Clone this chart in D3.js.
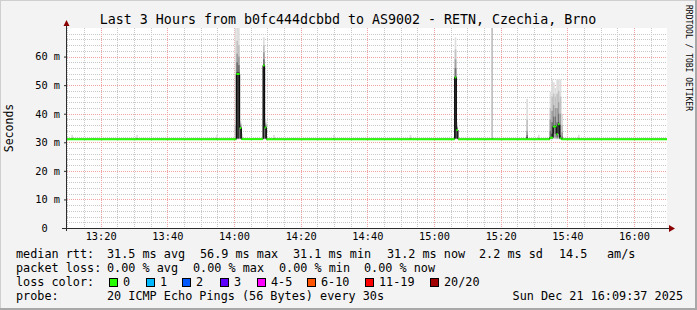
<!DOCTYPE html>
<html>
<head>
<meta charset="utf-8">
<script src="https://cdn.jsdelivr.net/npm/d3@7"></script>
<style>
body { margin: 0; background: #f3f3f3; }
svg { display: block; }
text { font-family: "DejaVu Sans Mono", monospace; fill: #000; }
</style>
</head>
<body>
<svg width="697" height="310"></svg>
<script>
// chart values
var day = '2025-12-21 ';
var timeRange = ['13:09:54', '16:09:54'];
var binSeconds = 30;
var xTickLabels = ['13:20', '13:40', '14:00', '14:20', '14:40', '15:00', '15:20', '15:40', '16:00'];
var yTickValues = [0, 10, 20, 30, 40, 50, 60];
var yMax = 70;

// median rtt (ms), step changes
var medianTimes = ['13:09:54', '14:00:42', '14:01:42', '14:02:12', '14:08:42', '14:09:12', '14:09:42',
    '15:06:12', '15:06:42', '15:07:12', '15:34:42', '15:35:42', '15:36:42', '15:37:12', '15:37:42',
    '15:38:12', '16:09:54'];
var medianValues = [31.1, 53.9, 35.0, 31.1, 56.9, 35.2, 31.1,
    52.7, 34.3, 31.1, 31.6, 35.5, 32.8, 36.3, 31.4,
    31.1, 31.1];

// smoke: sorted ping quantiles (ms) per 30s bin
var smokeTimes = ['13:11:12', '13:30:42', '13:54:42', '14:00:12', '14:00:42', '14:01:12', '14:01:42',
    '14:02:12', '14:08:42', '14:09:12', '14:11:42', '14:29:42', '14:52:42', '15:06:12', '15:06:42',
    '15:17:12', '15:27:42', '15:31:12', '15:34:42', '15:35:12', '15:35:42', '15:36:12', '15:36:42',
    '15:37:12', '15:37:42', '15:38:12', '15:43:12'];
var smokePings = [
    [31.0, 31.1, 31.1, 31.2, 31.2, 31.2, 31.3, 31.4, 31.7, 32.6],
    [31.0, 31.1, 31.1, 31.2, 31.2, 31.2, 31.3, 31.4, 31.7, 32.6],
    [31.0, 31.1, 31.1, 31.2, 31.2, 31.2, 31.3, 31.4, 31.7, 32.6],
    [31.0, 31.1, 31.1, 31.2, 31.2, 31.3, 31.4, 31.6, 36.0, 75.0],
    [31.0, 31.1, 31.2, 31.3, 31.4, 54.5, 58.0, 61.0, 65.5, 75.0],
    [31.0, 31.1, 31.2, 31.3, 31.4, 54.5, 57.0, 60.0, 64.0, 72.0],
    [31.0, 31.1, 31.2, 31.3, 31.4, 35.2, 35.8, 36.3, 36.8, 37.5],
    [31.0, 31.1, 31.1, 31.2, 31.2, 31.3, 31.4, 31.6, 32.0, 33.0],
    [31.0, 31.1, 31.2, 31.3, 31.4, 57.2, 59.0, 61.5, 64.0, 66.7],
    [31.0, 31.1, 31.2, 31.3, 31.4, 35.4, 36.0, 36.5, 37.0, 38.0],
    [31.0, 31.1, 31.1, 31.2, 31.2, 31.2, 31.3, 31.4, 31.7, 32.6],
    [31.0, 31.1, 31.1, 31.2, 31.2, 31.2, 31.3, 31.4, 31.7, 32.6],
    [31.0, 31.1, 31.1, 31.2, 31.2, 31.2, 31.3, 31.4, 31.7, 32.6],
    [31.0, 31.1, 31.2, 31.3, 31.4, 53.0, 56.0, 59.0, 62.5, 66.7],
    [31.0, 31.1, 31.2, 31.3, 31.4, 34.5, 35.0, 35.5, 36.0, 37.0],
    [31.0, 31.1, 31.1, 31.2, 31.2, 31.3, 31.3, 31.4, 74.0, 75.0],
    [31.0, 31.1, 31.2, 31.3, 31.4, 31.8, 32.5, 34.0, 38.0, 45.2],
    [31.0, 31.1, 31.1, 31.2, 31.2, 31.2, 31.3, 31.4, 31.7, 32.6],
    [31.0, 31.1, 31.2, 31.3, 31.4, 31.8, 34.0, 38.0, 42.0, 47.7],
    [31.0, 31.1, 31.3, 31.5, 31.7, 33.0, 37.0, 41.0, 46.0, 52.0],
    [31.1, 31.3, 31.5, 31.9, 33.0, 36.0, 39.0, 43.0, 47.0, 51.0],
    [31.1, 31.3, 31.7, 33.0, 35.0, 36.0, 39.0, 42.0, 46.0, 49.0],
    [31.0, 31.2, 31.4, 31.7, 32.5, 33.2, 37.0, 42.0, 47.0, 52.0],
    [31.1, 31.3, 31.7, 33.0, 35.5, 37.0, 40.0, 44.0, 48.0, 52.0],
    [31.0, 31.1, 31.2, 31.3, 31.4, 32.5, 36.0, 40.0, 46.0, 52.0],
    [31.0, 31.1, 31.1, 31.2, 31.2, 31.5, 32.0, 33.5, 36.0, 40.0],
    [31.0, 31.1, 31.1, 31.2, 31.2, 31.2, 31.3, 31.4, 31.7, 32.6]
];
var smokeColors = ['#dddddd', '#c2c2c2', '#9e9e9e', '#727272', '#363636'];

var lossLabels = ['0', '1', '2', '3', '4-5', '6-10', '11-19', '20/20'];
var lossColors = ['#26ff00', '#00b8ff', '#0059ff', '#5e00ff', '#ff00ff', '#ff5500', '#ff0000', '#a10000'];

var rttStats = ['31.5 ms avg', '56.9 ms max', '31.1 ms min', '31.2 ms now', '2.2 ms sd', '14.5', 'am/s'];
var lossStats = ['0.00 % avg', '0.00 % max', '0.00 % min', '0.00 % now'];
var probeText = '20 ICMP Echo Pings (56 Bytes) every 30s';
var dateText = 'Sun Dec 21 16:09:37 2025';
var title = 'Last 3 Hours from b0fc444dcbbd to AS9002 - RETN, Czechia, Brno';

var parse = d3.timeParse('%Y-%m-%d %H:%M:%S');
var parseTick = d3.timeParse('%Y-%m-%d %H:%M');
function t(s) { return parse(day + s); }

var svg = d3.select('svg');
var plotL = 67, plotR = 667, plotT = 28, plotB = 228;

var x = d3.scaleTime().domain(timeRange.map(t)).range([plotL, plotR]);
var y = d3.scaleLinear().domain([0, yMax]).range([plotB, plotT]);

// frame
svg.append('rect').attr('width', 697).attr('height', 310).attr('fill', '#f3f3f3');
svg.append('rect').attr('x', 0).attr('y', 0).attr('width', 697).attr('height', 1).attr('fill', '#cfcfcf');
svg.append('rect').attr('x', 0).attr('y', 0).attr('width', 1).attr('height', 310).attr('fill', '#cfcfcf');
svg.append('rect').attr('x', 0).attr('y', 308).attr('width', 697).attr('height', 2).attr('fill', '#a8a8a8');
svg.append('rect').attr('x', 695).attr('y', 0).attr('width', 2).attr('height', 310).attr('fill', '#a8a8a8');

svg.append('rect').attr('x', plotL).attr('y', plotT).attr('width', plotR - plotL).attr('height', plotB - plotT).attr('fill', '#fff');

svg.append('clipPath').attr('id', 'plot').append('rect')
    .attr('x', plotL).attr('y', plotT).attr('width', plotR - plotL).attr('height', plotB - plotT);

// grid
var grid = svg.append('g');
var minorY = d3.range(2, yMax, 2).filter(function (v) { return v % 10 != 0; });
grid.selectAll('.gy').data(minorY).enter().append('line')
    .attr('x1', plotL).attr('x2', plotR)
    .attr('y1', function (d) { return Math.round(y(d)) + 0.5; }).attr('y2', function (d) { return Math.round(y(d)) + 0.5; })
    .attr('stroke', '#c8c8c8').attr('stroke-dasharray', '1,1');
var minorX = d3.timeMinute.every(5).range(x.domain()[0], x.domain()[1]).filter(function (d) { return d.getMinutes() % 20 != 0; });
grid.selectAll('.gx').data(minorX).enter().append('line')
    .attr('x1', function (d) { return Math.round(x(d)) + 0.5; }).attr('x2', function (d) { return Math.round(x(d)) + 0.5; })
    .attr('y1', plotT).attr('y2', plotB)
    .attr('stroke', '#c8c8c8').attr('stroke-dasharray', '1,1');
grid.selectAll('.my').data(yTickValues.slice(1)).enter().append('line')
    .attr('x1', plotL).attr('x2', plotR)
    .attr('y1', function (d) { return Math.round(y(d)) + 0.5; }).attr('y2', function (d) { return Math.round(y(d)) + 0.5; })
    .attr('stroke', '#f4a3a3').attr('stroke-dasharray', '1,1');
grid.selectAll('.mx').data(xTickLabels).enter().append('line')
    .attr('x1', function (d) { return Math.round(x(parseTick(day + d))) + 0.5; })
    .attr('x2', function (d) { return Math.round(x(parseTick(day + d))) + 0.5; })
    .attr('y1', plotT).attr('y2', plotB)
    .attr('stroke', '#f4a3a3').attr('stroke-dasharray', '1,1');

// smoke
var smoke = svg.append('g').attr('clip-path', 'url(#plot)');
smokeTimes.forEach(function (s, i) {
    var p = smokePings[i];
    var x0 = x(t(s)), x1 = x(d3.timeSecond.offset(t(s), binSeconds));
    for (var b = 0; b < 5; b++) {
        smoke.append('rect')
            .attr('x', x0).attr('width', x1 - x0)
            .attr('y', y(p[9 - b])).attr('height', y(p[b]) - y(p[9 - b]))
            .attr('fill', smokeColors[b]);
    }
});

// median
var med = medianTimes.map(function (s, i) { return [t(s), medianValues[i]]; });
svg.append('path').datum(med)
    .attr('d', d3.line().curve(d3.curveStepAfter).x(function (d) { return x(d[0]); }).y(function (d) { return y(d[1]); }))
    .attr('fill', 'none').attr('stroke', '#000').attr('stroke-width', 1);
svg.selectAll('.seg').data(med.slice(0, -1)).enter().append('line')
    .attr('x1', function (d) { return x(d[0]); })
    .attr('x2', function (d, i) { return x(med[i + 1][0]); })
    .attr('y1', function (d) { return y(d[1]); }).attr('y2', function (d) { return y(d[1]); })
    .attr('stroke', lossColors[0]).attr('stroke-width', 2);

// axes
var yAxis = d3.axisLeft(y).tickValues(yTickValues).tickSizeInner(3).tickSizeOuter(0).tickPadding(4)
    .tickFormat(function (d) { return d == 0 ? '0\u00a0\u00a0' : d + ' m'; });
var gy = svg.append('g').attr('transform', 'translate(' + plotL + ',0)').call(yAxis);
gy.select('.domain').remove();
gy.selectAll('line').attr('stroke', '#2c2c2c');
gy.selectAll('text').attr('font-size', '10.3px').attr('font-family', 'DejaVu Sans Mono');

var xAxis = d3.axisBottom(x).tickValues(xTickLabels.map(function (d) { return parseTick(day + d); }))
    .tickSizeInner(0).tickSizeOuter(0).tickPadding(5).tickFormat(d3.timeFormat('%H:%M'));
var gx = svg.append('g').attr('transform', 'translate(0,' + plotB + ')').call(xAxis);
gx.select('.domain').remove();
gx.selectAll('text').attr('font-size', '10.3px').attr('font-family', 'DejaVu Sans Mono');

svg.append('line').attr('x1', 62).attr('x2', 670).attr('y1', plotB + 0.5).attr('y2', plotB + 0.5).attr('stroke', '#2c2c2c');
svg.append('line').attr('x1', plotL - 0.5).attr('x2', plotL - 0.5).attr('y1', plotB + 3).attr('y2', 25).attr('stroke', '#2c2c2c');
svg.append('path').attr('d', 'M669,225 L675,228.5 L669,232 Z').attr('fill', '#8b0000');
svg.append('path').attr('d', 'M63.5,26 L66.5,20 L69.5,26 Z').attr('fill', '#8b0000');

// texts
svg.append('text').attr('x', 348).attr('y', 24).attr('text-anchor', 'middle')
    .attr('font-size', '13.3px').text(title);
svg.append('text').attr('transform', 'translate(13,128) rotate(-90)').attr('text-anchor', 'middle')
    .attr('font-family', 'DejaVu Sans').attr('font-size', '11.5px').text('Seconds');
svg.append('text').attr('transform', 'translate(686,5) rotate(90)')
    .attr('font-size', '8px').attr('fill', '#b4b4b4').text('RRDTOOL / TOBI OETIKER');

var lf = '11.8px';
var rttX = [107, 200, 293, 387, 479, 559, 607];
svg.append('text').attr('x', 16).attr('y', 258).attr('font-size', lf).text('median rtt:');
rttStats.forEach(function (s, i) {
    svg.append('text').attr('x', rttX[i]).attr('y', 258).attr('font-size', lf).text(s);
});
var lossX = [107, 193, 279, 364];
svg.append('text').attr('x', 16).attr('y', 272).attr('font-size', lf).text('packet loss:');
lossStats.forEach(function (s, i) {
    svg.append('text').attr('x', lossX[i]).attr('y', 272).attr('font-size', lf).text(s);
});
var boxX = [109, 146, 182, 220, 257, 307, 365, 430];
svg.append('text').attr('x', 16).attr('y', 286).attr('font-size', lf).text('loss color:');
lossLabels.forEach(function (s, i) {
    svg.append('rect').attr('x', boxX[i] + 0.5).attr('y', 278.5).attr('width', 8).attr('height', 8)
        .attr('fill', lossColors[i]).attr('stroke', '#000');
    svg.append('text').attr('x', boxX[i] + 14).attr('y', 286).attr('font-size', lf).text(s);
});
svg.append('text').attr('x', 16).attr('y', 300).attr('font-size', lf).text('probe:');
svg.append('text').attr('x', 107).attr('y', 300).attr('font-size', lf).text(probeText);
svg.append('text').attr('x', 683).attr('y', 300).attr('text-anchor', 'end').attr('font-size', lf).text(dateText);
</script>
</body>
</html>
